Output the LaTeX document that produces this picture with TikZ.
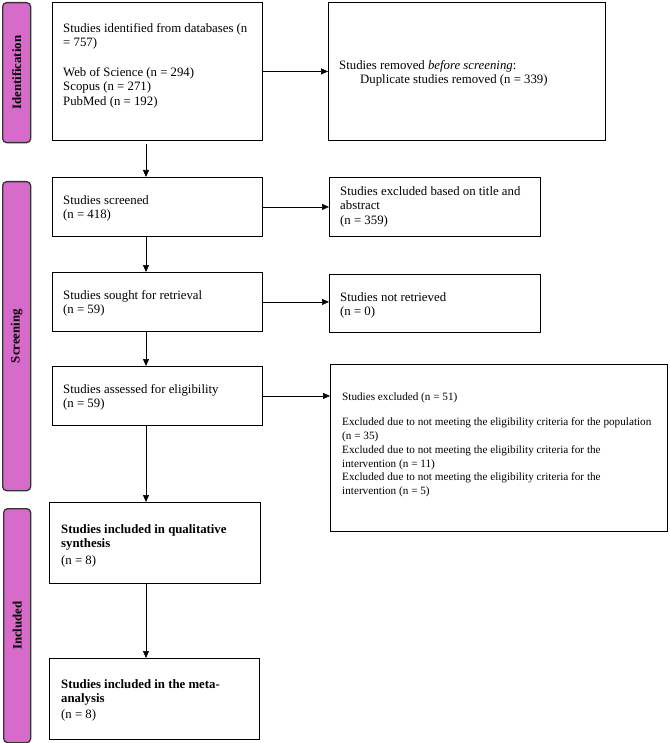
\documentclass[tikz,border=0pt]{standalone}
\usepackage{fontspec}
\setmainfont{Liberation Serif}
\usetikzlibrary{arrows.meta}
\definecolor{phasecol}{HTML}{D66BC9}
\begin{document}
\begin{tikzpicture}[x=1pt,y=-1pt,
 box/.style={draw=black, line width=0.9pt, anchor=north west, inner sep=0pt},
 phase/.style={draw=black!80, fill=phasecol, line width=1.3pt, rounded corners=4pt, anchor=north west, inner sep=0pt},
 txt/.style={anchor=north west, inner sep=0pt, align=left, font=\fontsize{12.8}{14.6}\selectfont},
 smalltxt/.style={anchor=north west, inner sep=0pt, align=left, font=\fontsize{11.2}{13.8}\selectfont},
 lab/.style={rotate=90, font=\fontsize{12.8}{14}\selectfont\bfseries},
 arr/.style={-{Triangle[length=7pt,width=6pt]}, line width=0.6pt},
]
\useasboundingbox (0,0) rectangle (669,743);

% phase bars
\node[phase, minimum width=28pt, minimum height=140pt] (pid) at (2,2) {};
\node[lab] (lid) at (pid.center) {Identification};
\node[phase, minimum width=28pt, minimum height=309pt] (pscr) at (2,181) {};
\node[lab] (lscr) at (pscr.center) {Screening};
\node[phase, minimum width=27pt, minimum height=234pt] (pinc) at (3,508) {};
\node[lab] (linc) at (pinc.center) {Included};

% boxes
\node[box, minimum width=210pt, minimum height=138pt] (b1) at (52,2) {};
\node[box, minimum width=277pt, minimum height=138pt] (rem) at (328,2) {};
\node[box, minimum width=210pt, minimum height=59pt] (b2) at (52,177) {};
\node[box, minimum width=211pt, minimum height=59pt] (ex1) at (329,177) {};
\node[box, minimum width=210pt, minimum height=59pt] (b3) at (52,272) {};
\node[box, minimum width=211pt, minimum height=58pt] (nr) at (329,274) {};
\node[box, minimum width=210pt, minimum height=59pt] (b4) at (52,366) {};
\node[box, minimum width=337pt, minimum height=167pt] (ex) at (330,364) {};
\node[box, minimum width=211pt, minimum height=81pt] (b5) at (49,502) {};
\node[box, minimum width=210pt, minimum height=81pt] (b6) at (49,658) {};

% texts
\node[txt] (t1) at (63,23) {Studies identified from databases (n\\= 757)\\[14.6pt]Web of Science (n = 294)\\Scopus (n = 271)\\PubMed (n = 192)};
\node[txt] (trem) at (339,60) {Studies removed \emph{before screening}:\\\hspace*{21pt}Duplicate studies removed (n = 339)};
\node[txt] (t2) at (63,195) {Studies screened\\(n = 418)};
\node[txt] (tex1) at (340,186) {Studies excluded based on title and\\abstract\\(n = 359)};
\node[txt] (t3) at (63,290) {Studies sought for retrieval\\(n = 59)};
\node[txt] (tnr) at (340,292) {Studies not retrieved\\(n = 0)};
\node[txt] (t4) at (63,384) {Studies assessed for eligibility\\(n = 59)};
\node[smalltxt] (tex) at (342,393) {Studies excluded (n = 51)\\[11pt]Excluded due to not meeting the eligibility criteria for the population\\(n = 35)\\Excluded due to not meeting the eligibility criteria for the\\intervention (n = 11)\\Excluded due to not meeting the eligibility criteria for the\\intervention (n = 5)};
\node[txt] (t5) at (61,524) {\textbf{Studies included in qualitative}\\\textbf{synthesis}\\[2pt](n = 8)};
\node[txt] (t6) at (61,679) {\textbf{Studies included in the meta-}\\\textbf{analysis}\\[1pt](n = 8)};

% connectors
\coordinate (xa) at (146,0);
\draw[arr] (b1.east) -- (b1.east -| rem.west);
\draw[arr] (b2.east) -- (b2.east -| ex1.west);
\draw[arr] (b3.east) -- (b3.east -| nr.west);
\draw[arr] (b4.east) -- (b4.east -| ex.west);
\draw[arr, shorten <=3pt] (b1.south -| xa) -- (b2.north -| xa);
\draw[arr] (b2.south -| xa) -- (b3.north -| xa);
\draw[arr] (b3.south -| xa) -- (b4.north -| xa);
\draw[arr] (b4.south -| xa) -- (b5.north -| xa);
\draw[arr] (b5.south -| xa) -- (b6.north -| xa);
\end{tikzpicture}
\end{document}
